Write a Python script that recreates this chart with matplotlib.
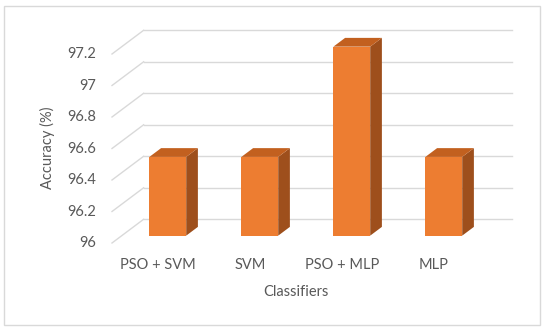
import matplotlib
matplotlib.use("Agg")
import matplotlib.pyplot as plt
from matplotlib.patches import Polygon, Rectangle
import numpy as np

categories = ["PSO + SVM", "SVM", "PSO + MLP", "MLP"]
accuracy = [96.5, 96.5, 97.2, 96.5]
yticks = [96.0, 96.2, 96.4, 96.6, 96.8, 97.0, 97.2]
ytick_labels = ["96", "96.2", "96.4", "96.6", "96.8", "97", "97.2"]
ymin, ymax = 96.0, 97.2

W, H, DPI = 550, 332, 100
fig = plt.figure(figsize=(W / DPI, H / DPI), dpi=DPI)
fig.patch.set_facecolor("white")

# chart border
fig.patches.append(Rectangle((4 / W, (H - 325) / H), 536 / W, 319 / H,
                             transform=fig.transFigure, fill=False,
                             edgecolor="#D9D9D9", linewidth=1.0))

# axes = front plane (depth 0)
ax_left, ax_right = 112, 480
ax_bottom_px, ax_top_px = H - 243, H - 54
ax = fig.add_axes([ax_left / W, ax_bottom_px / H, (ax_right - ax_left) / W,
                   (ax_top_px - ax_bottom_px) / H])
ax.set_xlim(-0.5, len(categories) - 0.5)
ax.set_ylim(ymin, ymax)
ax.axis("off")

px_x = (ax_right - ax_left) / len(categories)       # px per x unit
px_y = (ax_top_px - ax_bottom_px) / (ymax - ymin)   # px per y unit
# full depth offset in data units
Dx = 31.6 / px_x
Dy = 23.7 / px_y

grid_c = "#D9D9D9"
x0, x1 = -0.5, len(categories) - 0.5
for t in yticks:
    # floor/side diagonal from front to back
    ax.plot([x0, x0 + Dx], [t, t + Dy], color=grid_c, lw=1.0, clip_on=False, zorder=1)
    # back wall line
    ax.plot([x0 + Dx, x1 + Dx], [t + Dy, t + Dy], color=grid_c, lw=1.0, clip_on=False, zorder=1)

front_c = "#ED7D31"
side_c = "#9E4F1C"
top_c = "#C2601F"
bw = 0.40
d0, d1 = 0.31, 0.68
for i, v in enumerate(accuracy):
    fx = i + d0 * Dx
    fy = d0 * Dy
    sx = (d1 - d0) * Dx
    sy = (d1 - d0) * Dy
    l, r = fx - bw / 2, fx + bw / 2
    b, t = ymin + fy, v + fy
    ax.bar(fx, v - ymin, width=bw, bottom=b, color=front_c, zorder=5, clip_on=False)
    ax.add_patch(Polygon([[r, b], [r + sx, b + sy], [r + sx, t + sy], [r, t]],
                         closed=True, facecolor=side_c, edgecolor="none",
                         zorder=5, clip_on=False))
    ax.add_patch(Polygon([[l, t], [r, t], [r + sx, t + sy], [l + sx, t + sy]],
                         closed=True, facecolor=top_c, edgecolor="none",
                         zorder=5, clip_on=False))

txt_c = "#595959"
fam = ["Lato", "DejaVu Sans"]
for t, lab in zip(yticks, ytick_labels):
    ax.text(x0 - 16 / px_x, t, lab, ha="right", va="center", fontsize=10.5,
            color=txt_c, family=fam, clip_on=False)
for i, c in enumerate(categories):
    ax.text(i, ymin - 22 / px_y, c, ha="center", va="center", fontsize=10.5,
            color=txt_c, family=fam, clip_on=False)

fig.text(296 / W, 1 - 292 / H, "Classifiers", ha="center", va="center",
         fontsize=10.5, color=txt_c, family=fam)
fig.text(47 / W, 1 - 148 / H, "Accuracy (%)", ha="center", va="center",
         rotation=90, fontsize=10.5, color=txt_c, family=fam)

fig.savefig("out.png", dpi=DPI, facecolor="white")
